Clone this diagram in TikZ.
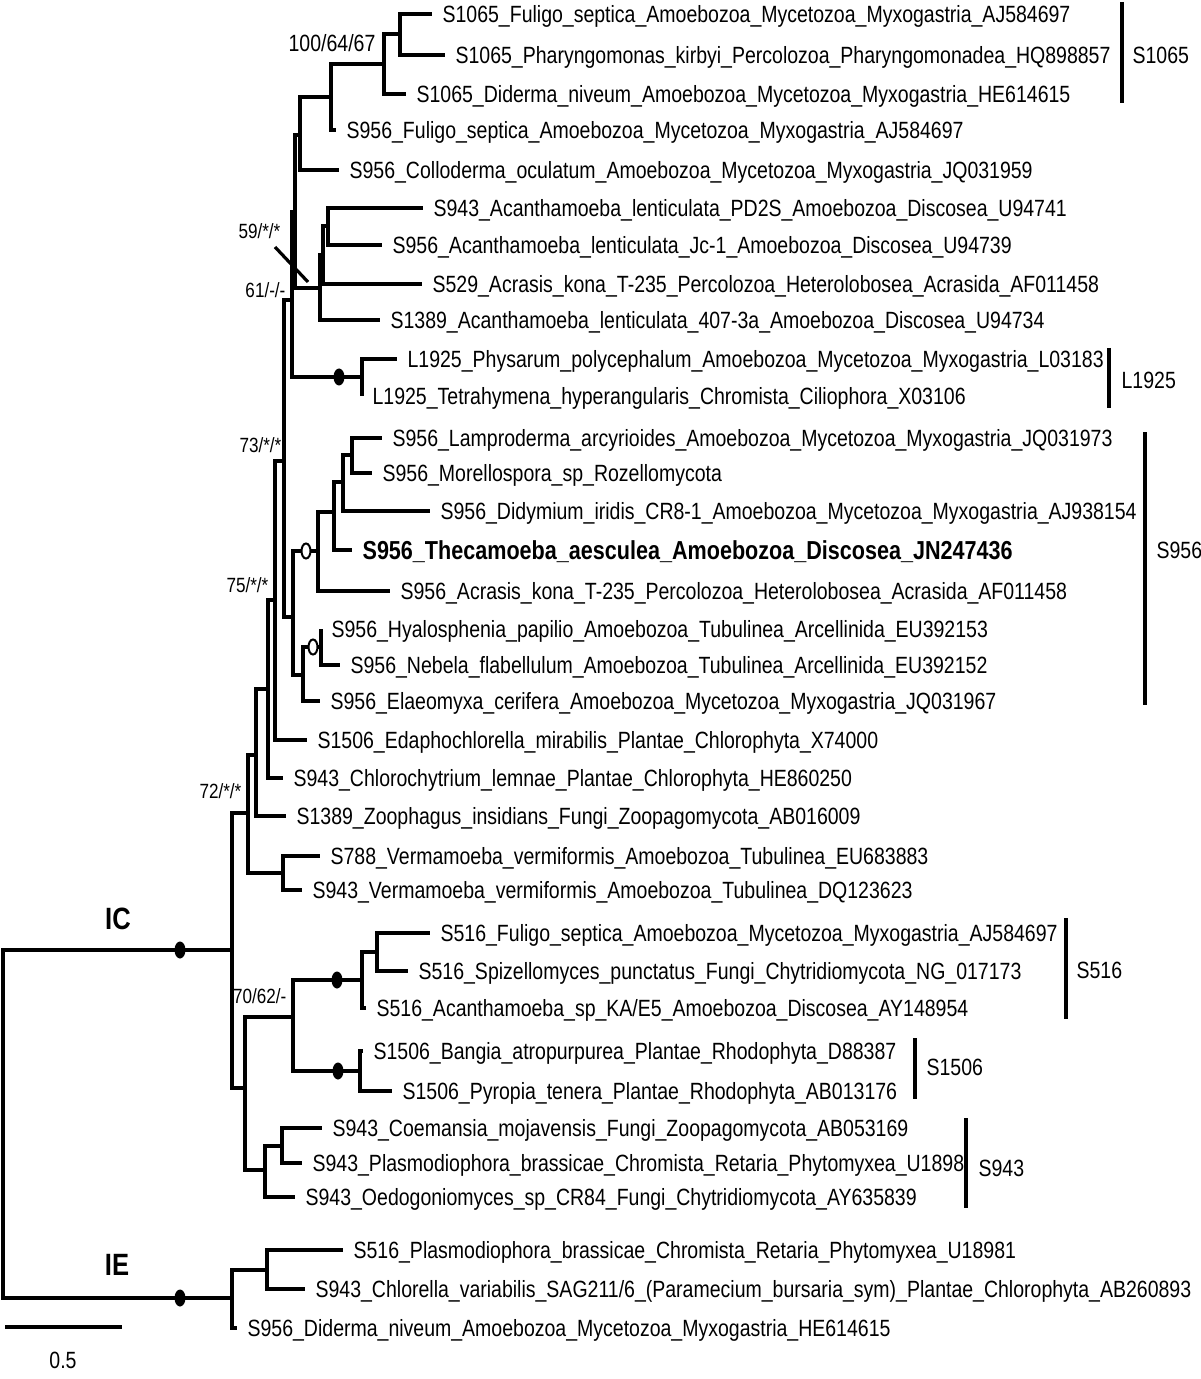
\documentclass[tikz,border=0pt]{standalone}
\usepackage{fontspec}
\setmainfont{Liberation Sans}[FakeStretch=0.83]
\usetikzlibrary{shapes.geometric}
\begin{document}
\begin{tikzpicture}[x=0.5pt,y=-0.5pt,line width=1.6pt,
  leaf/.style={anchor=base west,inner sep=0pt,xshift=4.5pt,yshift=-4.2pt,font=\fontsize{11.75}{14}\selectfont},
  boot/.style={anchor=east,inner sep=0pt,font=\fontsize{10.3}{12}\selectfont},
  group/.style={anchor=base west,inner sep=0pt,yshift=-4.2pt,font=\fontsize{11.75}{14}\selectfont},
  intron/.style={inner sep=0pt,font=\fontsize{15.4}{18}\selectfont\bfseries},
  bdot/.style={ellipse,fill=black,inner sep=0pt,minimum width=5.5pt,minimum height=8.5pt},
  odot/.style={ellipse,draw=black,fill=white,line width=1pt,inner sep=0pt,minimum width=4.5pt,minimum height=7.5pt}]
\useasboundingbox (0,0) rectangle (1200,1379);

% tips
\coordinate (t1) at (432,14);   \coordinate (t2) at (445,55);   \coordinate (t3) at (406,94);
\coordinate (t4) at (336,130);  \coordinate (t5) at (339,170);  \coordinate (t6) at (423,208);
\coordinate (t7) at (382,245);  \coordinate (t8) at (422,284);  \coordinate (t9) at (380,320);
\coordinate (t10) at (397,359); \coordinate (t11) at (362,396); \coordinate (t12) at (382,438);
\coordinate (t13) at (372,473); \coordinate (t14) at (430,511); \coordinate (t15) at (352,550);
\coordinate (t16) at (390,591); \coordinate (t17) at (321,629); \coordinate (t18) at (340,665);
\coordinate (t19) at (320,701); \coordinate (t20) at (307,740); \coordinate (t21) at (283,778);
\coordinate (t22) at (286,816); \coordinate (t23) at (320,856); \coordinate (t24) at (302,890);
\coordinate (t25) at (430,933); \coordinate (t26) at (408,971); \coordinate (t27) at (366,1008);
\coordinate (t28) at (363,1051);\coordinate (t29) at (392,1091);\coordinate (t30) at (322,1128);
\coordinate (t31) at (302,1163);\coordinate (t32) at (295,1197);\coordinate (t33) at (343,1250);
\coordinate (t34) at (305,1289);\coordinate (t35) at (237,1328);

% internal nodes
\coordinate (n1065a) at (400,34); \coordinate (n1065) at (384,64);
\coordinate (nFul) at (331,97);   \coordinate (nCol) at (300,135);
\coordinate (nAc1) at (328,226);  \coordinate (nAc2) at (323,255);
\coordinate (nAc3) at (320,288);  \coordinate (nA) at (295,212);
\coordinate (nL) at (362,377);    \coordinate (nB) at (292,300);
\coordinate (nLM) at (352,455);   \coordinate (nDi) at (343,482);
\coordinate (nTh) at (334,512);   \coordinate (nX) at (318,551);
\coordinate (nHN) at (321,647);   \coordinate (nY) at (303,675);
\coordinate (n956) at (293,617);  \coordinate (nC) at (284,461);
\coordinate (nD) at (275,600);    \coordinate (nD2) at (268,689);
\coordinate (nD3) at (256,755);   \coordinate (nV) at (283,873);
\coordinate (nE) at (248,813);    \coordinate (n516a) at (377,952);
\coordinate (n516) at (362,980);  \coordinate (n1506) at (360,1071);
\coordinate (nH) at (293,1017);   \coordinate (n943a) at (282,1146);
\coordinate (n943) at (265,1170); \coordinate (nG) at (245,1088);
\coordinate (nIC) at (232,950);   \coordinate (nIEa) at (267,1270);
\coordinate (nIE) at (232,1298);  \coordinate (root) at (3,1124);

% branches
\draw (n1065a) |- (t1); \draw (n1065a) |- (t2);
\draw (n1065) |- (n1065a); \draw (n1065) |- (t3);
\draw (nFul) |- (n1065); \draw (nFul) |- (t4);
\draw (nCol) |- (nFul); \draw (nCol) |- (t5);
\draw (nAc1) |- (t6); \draw (nAc1) |- (t7);
\draw (nAc2) |- (nAc1); \draw (nAc2) |- (t8);
\draw (nAc3) |- (nAc2); \draw (nAc3) |- (t9);
\draw (nA) |- (nCol); \draw (nA) |- (nAc3);
\draw (nL) |- (t10); \draw (nL) |- (t11);
\draw (nB) |- (nA); \draw (nB) |- (nL);
\draw (nLM) |- (t12); \draw (nLM) |- (t13);
\draw (nDi) |- (nLM); \draw (nDi) |- (t14);
\draw (nTh) |- (nDi); \draw (nTh) |- (t15);
\draw (nX) |- (nTh); \draw (nX) |- (t16);
\draw (nHN) |- (t17); \draw (nHN) |- (t18);
\draw (nY) |- (nHN); \draw (nY) |- (t19);
\draw (n956) |- (nX); \draw (n956) |- (nY);
\draw (nC) |- (nB); \draw (nC) |- (n956);
\draw (nD) |- (nC); \draw (nD) |- (t20);
\draw (nD2) |- (nD); \draw (nD2) |- (t21);
\draw (nD3) |- (nD2); \draw (nD3) |- (t22);
\draw (nV) |- (t23); \draw (nV) |- (t24);
\draw (nE) |- (nD3); \draw (nE) |- (nV);
\draw (n516a) |- (t25); \draw (n516a) |- (t26);
\draw (n516) |- (n516a); \draw (n516) |- (t27);
\draw (n1506) |- (t28); \draw (n1506) |- (t29);
\draw (nH) |- (n516); \draw (nH) |- (n1506);
\draw (n943a) |- (t30); \draw (n943a) |- (t31);
\draw (n943) |- (n943a); \draw (n943) |- (t32);
\draw (nG) |- (nH); \draw (nG) |- (n943);
\draw (nIC) |- (nE); \draw (nIC) |- (nG);
\draw (nIEa) |- (t33); \draw (nIEa) |- (t34);
\draw (nIE) |- (nIEa); \draw (nIE) |- (t35);
\draw (root) |- (nIC); \draw (root) |- (nIE);

% node marks
\node[bdot] (dIC) at (180,950) {};
\node[bdot] (dIE) at (180,1298) {};
\node[bdot] (dL) at (339,377) {};
\node[bdot] (d516) at (337,980) {};
\node[bdot] (d1506) at (338,1071) {};
\node[odot] (o956) at (306,551) {};
\node[odot] (oHN) at (313,647) {};

% leaves
\node[leaf] (l1) at (t1) {S1065\_Fuligo\_septica\_Amoebozoa\_Mycetozoa\_Myxogastria\_AJ584697};
\node[leaf] (l2) at (t2) {S1065\_Pharyngomonas\_kirbyi\_Percolozoa\_Pharyngomonadea\_HQ898857};
\node[leaf] (l3) at (t3) {S1065\_Diderma\_niveum\_Amoebozoa\_Mycetozoa\_Myxogastria\_HE614615};
\node[leaf] (l4) at (t4) {S956\_Fuligo\_septica\_Amoebozoa\_Mycetozoa\_Myxogastria\_AJ584697};
\node[leaf] (l5) at (t5) {S956\_Colloderma\_oculatum\_Amoebozoa\_Mycetozoa\_Myxogastria\_JQ031959};
\node[leaf] (l6) at (t6) {S943\_Acanthamoeba\_lenticulata\_PD2S\_Amoebozoa\_Discosea\_U94741};
\node[leaf] (l7) at (t7) {S956\_Acanthamoeba\_lenticulata\_Jc-1\_Amoebozoa\_Discosea\_U94739};
\node[leaf] (l8) at (t8) {S529\_Acrasis\_kona\_T-235\_Percolozoa\_Heterolobosea\_Acrasida\_AF011458};
\node[leaf] (l9) at (t9) {S1389\_Acanthamoeba\_lenticulata\_407-3a\_Amoebozoa\_Discosea\_U94734};
\node[leaf] (l10) at (t10) {L1925\_Physarum\_polycephalum\_Amoebozoa\_Mycetozoa\_Myxogastria\_L03183};
\node[leaf] (l11) at (t11) {L1925\_Tetrahymena\_hyperangularis\_Chromista\_Ciliophora\_X03106};
\node[leaf] (l12) at (t12) {S956\_Lamproderma\_arcyrioides\_Amoebozoa\_Mycetozoa\_Myxogastria\_JQ031973};
\node[leaf] (l13) at (t13) {S956\_Morellospora\_sp\_Rozellomycota};
\node[leaf] (l14) at (t14) {S956\_Didymium\_iridis\_CR8-1\_Amoebozoa\_Mycetozoa\_Myxogastria\_AJ938154};
\node[leaf,yshift=-0.5pt,font=\fontsize{13}{15}\selectfont\bfseries] (l15) at (t15) {S956\_Thecamoeba\_aesculea\_Amoebozoa\_Discosea\_JN247436};
\node[leaf] (l16) at (t16) {S956\_Acrasis\_kona\_T-235\_Percolozoa\_Heterolobosea\_Acrasida\_AF011458};
\node[leaf] (l17) at (t17) {S956\_Hyalosphenia\_papilio\_Amoebozoa\_Tubulinea\_Arcellinida\_EU392153};
\node[leaf] (l18) at (t18) {S956\_Nebela\_flabellulum\_Amoebozoa\_Tubulinea\_Arcellinida\_EU392152};
\node[leaf] (l19) at (t19) {S956\_Elaeomyxa\_cerifera\_Amoebozoa\_Mycetozoa\_Myxogastria\_JQ031967};
\node[leaf] (l20) at (t20) {S1506\_Edaphochlorella\_mirabilis\_Plantae\_Chlorophyta\_X74000};
\node[leaf] (l21) at (t21) {S943\_Chlorochytrium\_lemnae\_Plantae\_Chlorophyta\_HE860250};
\node[leaf] (l22) at (t22) {S1389\_Zoophagus\_insidians\_Fungi\_Zoopagomycota\_AB016009};
\node[leaf] (l23) at (t23) {S788\_Vermamoeba\_vermiformis\_Amoebozoa\_Tubulinea\_EU683883};
\node[leaf] (l24) at (t24) {S943\_Vermamoeba\_vermiformis\_Amoebozoa\_Tubulinea\_DQ123623};
\node[leaf] (l25) at (t25) {S516\_Fuligo\_septica\_Amoebozoa\_Mycetozoa\_Myxogastria\_AJ584697};
\node[leaf] (l26) at (t26) {S516\_Spizellomyces\_punctatus\_Fungi\_Chytridiomycota\_NG\_017173};
\node[leaf] (l27) at (t27) {S516\_Acanthamoeba\_sp\_KA/E5\_Amoebozoa\_Discosea\_AY148954};
\node[leaf] (l28) at (t28) {S1506\_Bangia\_atropurpurea\_Plantae\_Rhodophyta\_D88387};
\node[leaf] (l29) at (t29) {S1506\_Pyropia\_tenera\_Plantae\_Rhodophyta\_AB013176};
\node[leaf] (l30) at (t30) {S943\_Coemansia\_mojavensis\_Fungi\_Zoopagomycota\_AB053169};
\node[leaf] (l31) at (t31) {S943\_Plasmodiophora\_brassicae\_Chromista\_Retaria\_Phytomyxea\_U1898};
\node[leaf] (l32) at (t32) {S943\_Oedogoniomyces\_sp\_CR84\_Fungi\_Chytridiomycota\_AY635839};
\node[leaf] (l33) at (t33) {S516\_Plasmodiophora\_brassicae\_Chromista\_Retaria\_Phytomyxea\_U18981};
\node[leaf] (l34) at (t34) {S943\_Chlorella\_variabilis\_SAG211/6\_(Paramecium\_bursaria\_sym)\_Plantae\_Chlorophyta\_AB260893};
\node[leaf] (l35) at (t35) {S956\_Diderma\_niveum\_Amoebozoa\_Mycetozoa\_Myxogastria\_HE614615};

% support values
\node[boot,font=\fontsize{11.75}{14}\selectfont] (b100) at (377,43) {100/64/67};
\node[boot] (b59) at (282,231) {59/*/*};
\node[boot] (b61) at (287,290) {61/-/-};
\node[boot] (b73) at (283,445) {73/*/*};
\node[boot] (b75) at (270,585) {75/*/*};
\node[boot] (b72) at (243,791) {72/*/*};
\node[boot] (b70) at (288,996) {70/62/-};
\coordinate (s59a) at (275,247); \coordinate (s59b) at (308,282);
\draw (s59a) -- (s59b);

% group bars
\coordinate (g1065a) at (1122,2);    \coordinate (g1065b) at (1122,103);
\coordinate (gL1925a) at (1109,348); \coordinate (gL1925b) at (1109,408);
\coordinate (g956a) at (1145,432);   \coordinate (g956b) at (1145,705);
\coordinate (g516a) at (1066,918);   \coordinate (g516b) at (1066,1019);
\coordinate (g1506a) at (915,1038);  \coordinate (g1506b) at (915,1099);
\coordinate (g943a) at (966,1118);   \coordinate (g943b) at (966,1208);
\draw (g1065a) -- (g1065b); \draw (gL1925a) -- (gL1925b); \draw (g956a) -- (g956b);
\draw (g516a) -- (g516b); \draw (g1506a) -- (g1506b); \draw (g943a) -- (g943b);
\node[group] (G1065) at (1131,55) {S1065};
\node[group] (GL1925) at (1120,380) {L1925};
\node[group] (G956) at (1155,550) {S956};
\node[group] (G516) at (1075,970) {S516};
\node[group] (G1506) at (925,1067) {S1506};
\node[group] (G943) at (977,1168) {S943};

% intron types
\node[intron] (IC) at (118,919) {IC};
\node[intron] (IE) at (117,1265) {IE};

% scale
\coordinate (sc0) at (5,1327); \coordinate (sc1) at (122,1327);
\draw (sc0) -- (sc1);
\node[boot,anchor=center,font=\fontsize{11.75}{14}\selectfont] (sclab) at (63,1360) {0.5};
\end{tikzpicture}
\end{document}
